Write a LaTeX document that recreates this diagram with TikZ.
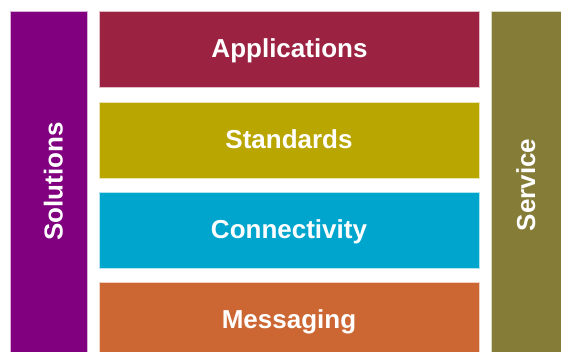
\documentclass[tikz,border=0pt]{standalone}
\usepackage{fontspec}
\setmainfont{Liberation Sans}
\definecolor{cpurple}{RGB}{128,0,128}
\definecolor{capp}{RGB}{155,34,64}
\definecolor{cstd}{RGB}{186,166,0}
\definecolor{ccon}{RGB}{0,165,206}
\definecolor{cmsg}{RGB}{204,102,51}
\definecolor{csrv}{RGB}{133,124,56}
\tikzset{
  block/.style={draw=white!70!#1, line width=0.6pt, fill=#1},
  lbl/.style={text=white, font=\fontsize{26}{29}\selectfont\bfseries, inner sep=0pt, anchor=base}
}
\begin{document}
\begin{tikzpicture}[x=1pt,y=-1pt]
\useasboundingbox (0,0) rectangle (561,352);
\fill[white] (0,0) rectangle (561,352);
\begin{scope}
\clip (0,0) rectangle (561,352);
\draw[block=cpurple] (10.5,11) rectangle (87,360);
\draw[block=csrv] (491.5,11) rectangle (570,360);
\draw[block=capp] (99,11) rectangle (479,87);
\draw[block=cstd] (99,102) rectangle (479,178);
\draw[block=ccon] (99,192) rectangle (479,268.5);
\draw[block=cmsg] (99,282) rectangle (479,360);
\end{scope}
\node[lbl, rotate=90] (sol) at (62.5,181.5) {Solutions};
\node[lbl, rotate=90] (srv) at (535,185) {Service};
\node[lbl] (app) at (289.5,57.7) {Applications};
\node[lbl] (std) at (289,148.7) {Standards};
\node[lbl] (con) at (289,239) {Connectivity};
\node[lbl] (msg) at (289,328.3) {Messaging};
\end{tikzpicture}
\end{document}
